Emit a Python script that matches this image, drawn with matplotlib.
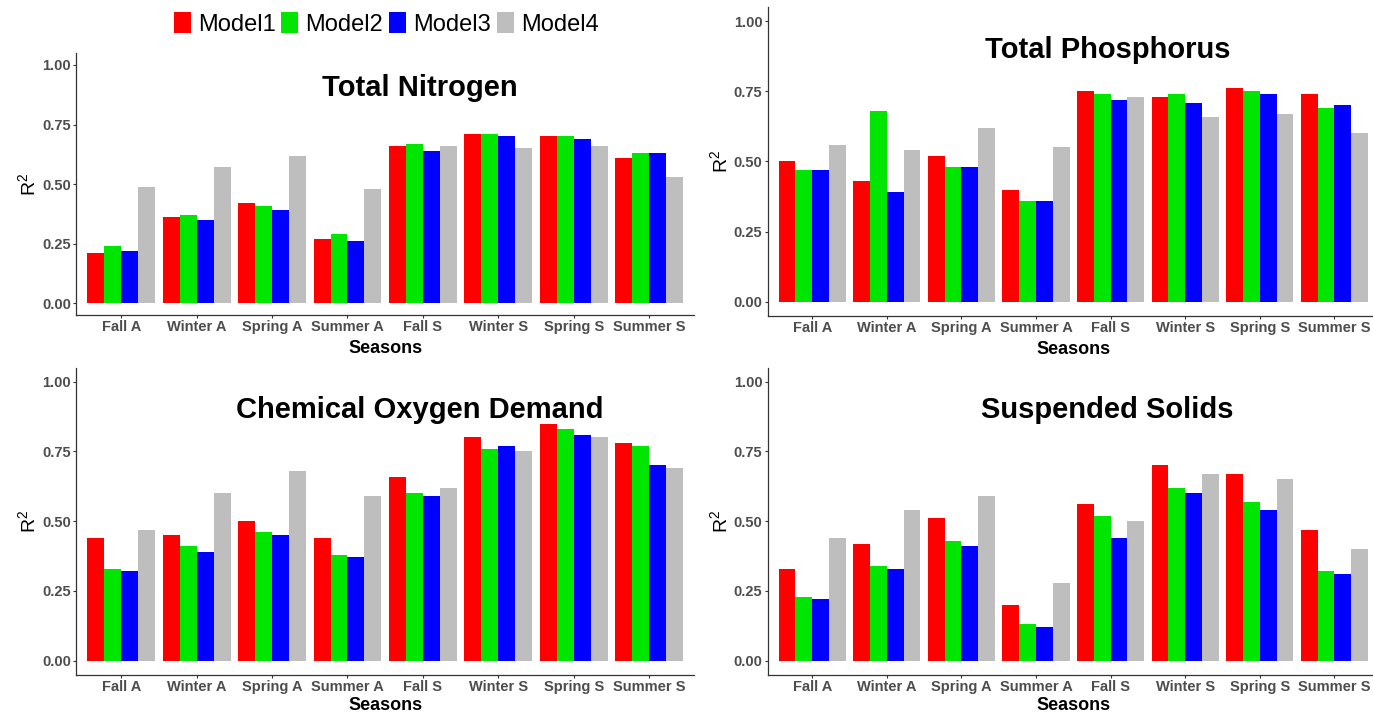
import numpy as np
import matplotlib
matplotlib.use("Agg")
import matplotlib.pyplot as plt
from matplotlib.patches import Patch

plt.rcParams['font.family'] = 'Liberation Sans'
plt.rcParams['mathtext.fontset'] = 'custom'
plt.rcParams['mathtext.rm'] = 'Liberation Sans'

seasons = ['Fall A', 'Winter A', 'Spring A', 'Summer A',
           'Fall S', 'Winter S', 'Spring S', 'Summer S']
models = ['Model1', 'Model2', 'Model3', 'Model4']
colors = ['#FF0000', '#00E600', '#0000FF', '#BEBEBE']

# R2 per model (rows) and season (columns)
tn_r2 = [[0.21, 0.36, 0.42, 0.27, 0.66, 0.71, 0.70, 0.61],
         [0.24, 0.37, 0.41, 0.29, 0.67, 0.71, 0.70, 0.63],
         [0.22, 0.35, 0.39, 0.26, 0.64, 0.70, 0.69, 0.63],
         [0.49, 0.57, 0.62, 0.48, 0.66, 0.65, 0.66, 0.53]]

tp_r2 = [[0.50, 0.43, 0.52, 0.40, 0.75, 0.73, 0.76, 0.74],
         [0.47, 0.68, 0.48, 0.36, 0.74, 0.74, 0.75, 0.69],
         [0.47, 0.39, 0.48, 0.36, 0.72, 0.71, 0.74, 0.70],
         [0.56, 0.54, 0.62, 0.55, 0.73, 0.66, 0.67, 0.60]]

cod_r2 = [[0.44, 0.45, 0.50, 0.44, 0.66, 0.80, 0.85, 0.78],
          [0.33, 0.41, 0.46, 0.38, 0.60, 0.76, 0.83, 0.77],
          [0.32, 0.39, 0.45, 0.37, 0.59, 0.77, 0.81, 0.70],
          [0.47, 0.60, 0.68, 0.59, 0.62, 0.75, 0.80, 0.69]]

ss_r2 = [[0.33, 0.42, 0.51, 0.20, 0.56, 0.70, 0.67, 0.47],
         [0.23, 0.34, 0.43, 0.13, 0.52, 0.62, 0.57, 0.32],
         [0.22, 0.33, 0.41, 0.12, 0.44, 0.60, 0.54, 0.31],
         [0.44, 0.54, 0.59, 0.28, 0.50, 0.67, 0.65, 0.40]]

fig = plt.figure(figsize=(13.73, 7.13), dpi=100)

# title, values, [left, bottom, width, height], offset of "Seasons" in px
panels = [
    ('Total Nitrogen', tn_r2, [0.0554, 0.5579, 0.4503, 0.3677], -38),
    ('Total Phosphorus', tp_r2, [0.5590, 0.5568, 0.4455, 0.4334], -38),
    ('Chemical Oxygen Demand', cod_r2, [0.0554, 0.0537, 0.4503, 0.4306], -35),
    ('Suspended Solids', ss_r2, [0.5590, 0.0537, 0.4455, 0.4306], -35),
]

x = np.arange(1, len(seasons) + 1)
bw = 0.225

for title, vals, rect, lab_off in panels:
    ax = fig.add_axes(rect)
    for j in range(len(models)):
        ax.bar(x + (j - 1.5) * bw, vals[j], width=bw, color=colors[j],
               linewidth=0)
    ax.set_xlim(0.4, 8.6)
    ax.set_ylim(-0.05, 1.05)
    ax.set_xticks(x)
    ax.set_xticklabels(seasons, fontsize=10.5, fontweight='bold',
                       color='#4D4D4D')
    ax.set_yticks([0, 0.25, 0.5, 0.75, 1.0])
    ax.set_yticklabels(['0.00', '0.25', '0.50', '0.75', '1.00'],
                       fontsize=10.5, fontweight='bold', color='#4D4D4D')
    ax.tick_params(length=2.5, width=0.8, color='#333333', pad=1.2)
    for side in ['top', 'right']:
        ax.spines[side].set_visible(False)
    for side in ['left', 'bottom']:
        ax.spines[side].set_color('#333333')
        ax.spines[side].set_linewidth(0.9)
    ax.text(4.96, 0.87, title, ha='center', va='baseline', fontsize=21,
            fontweight='bold', color='black')
    w_px = rect[2] * fig.get_size_inches()[0] * fig.dpi
    ax.text(-47 / w_px, 0.5, r'R$^{\mathrm{2}}$', transform=ax.transAxes,
            rotation=90, ha='center', va='center', fontsize=14)
    ax.annotate('Seasons', xy=(0.5, 0), xycoords='axes fraction',
                xytext=(0, lab_off), textcoords='offset pixels', ha='center',
                va='baseline', fontsize=13, fontweight='bold')

handles = [Patch(facecolor=c, edgecolor='none') for c in colors]
fig.legend(handles, models, loc='center', bbox_to_anchor=(0.2812, 0.9663),
           ncol=4, frameon=False, fontsize=17, handlelength=0.72,
           handleheight=0.93, handletextpad=0.3, columnspacing=0.25,
           borderpad=0, borderaxespad=0)

fig.savefig('out.png', dpi=100, facecolor='white')
